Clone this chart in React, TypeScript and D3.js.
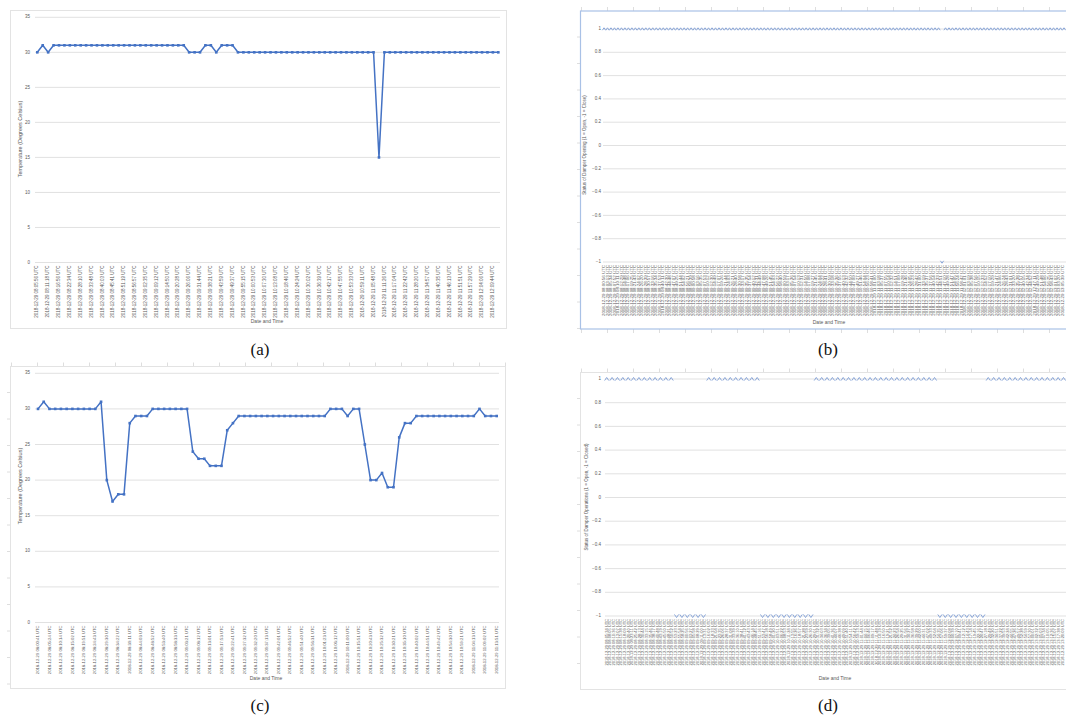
import React from 'react';
import * as d3 from 'd3';

// ---------- DATA ----------
// (a) Temperature, 86 readings
const tempA: number[] = [
  30, 31, 30, 31, 31, 31, 31, 31, 31, 31,
  31, 31, 31, 31, 31, 31, 31, 31, 31, 31,
  31, 31, 31, 31, 31, 31, 31, 31, 30, 30,
  30, 31, 31, 30, 31, 31, 31, 30, 30, 30,
  30, 30, 30, 30, 30, 30, 30, 30, 30, 30,
  30, 30, 30, 30, 30, 30, 30, 30, 30, 30,
  30, 30, 30, 15, 30, 30, 30, 30, 30, 30,
  30, 30, 30, 30, 30, 30, 30, 30, 30, 30,
  30, 30, 30, 30, 30, 30,
];
// tick labels of (a), one every two readings
const timesA: string[] = [
  '08:05:56', '08:11:18', '08:16:56', '08:22:34', '08:28:10', '08:33:48', '08:40:03', '08:45:41', '08:51:19', '08:56:57',
  '09:02:35', '09:09:12', '09:14:50', '09:20:28', '09:26:06', '09:31:44', '09:38:21', '09:43:59', '09:49:37', '09:55:15',
  '10:00:53', '10:07:30', '10:13:08', '10:18:46', '10:24:24', '10:30:02', '10:36:39', '10:42:17', '10:47:55', '10:53:33',
  '10:59:11', '11:05:48', '11:11:26', '11:17:04', '11:22:42', '11:28:20', '11:34:57', '11:40:35', '11:46:13', '11:51:51',
  '11:57:29', '12:04:06', '12:09:44',
];

// (b) Damper opening status, 133 readings
const statusB: number[] = [
  1, 1, 1, 1, 1, 1, 1, 1, 1, 1,
  1, 1, 1, 1, 1, 1, 1, 1, 1, 1,
  1, 1, 1, 1, 1, 1, 1, 1, 1, 1,
  1, 1, 1, 1, 1, 1, 1, 1, 1, 1,
  1, 1, 1, 1, 1, 1, 1, 1, 1, 1,
  1, 1, 1, 1, 1, 1, 1, 1, 1, 1,
  1, 1, 1, 1, 1, 1, 1, 1, 1, 1,
  1, 1, 1, 1, 1, 1, 1, 1, 1, 1,
  1, 1, 1, 1, 1, 1, 1, 1, 1, 1,
  1, 1, 1, 1, 1, 1, 1, -1, 1, 1,
  1, 1, 1, 1, 1, 1, 1, 1, 1, 1,
  1, 1, 1, 1, 1, 1, 1, 1, 1, 1,
  1, 1, 1, 1, 1, 1, 1, 1, 1, 1,
  1, 1, 1,
];
const timesB: string[] = [
  '08:00:56', '08:03:13', '08:05:34', '08:07:52', '08:10:11', '08:12:29', '08:14:48', '08:17:06', '08:19:25', '08:21:43',
  '08:24:02', '08:26:20', '08:28:39', '08:30:57', '08:33:16', '08:35:34', '08:37:53', '08:40:11', '08:42:30', '08:44:48',
  '08:47:07', '08:49:25', '08:51:44', '08:54:02', '08:56:21', '08:58:39', '09:00:58', '09:03:16', '09:05:35', '09:07:53',
  '09:10:12', '09:12:30', '09:14:49', '09:17:07', '09:19:26', '09:21:44', '09:24:03', '09:26:21', '09:28:40', '09:30:58',
  '09:33:17', '09:35:35', '09:37:54', '09:40:12', '09:42:31', '09:44:49', '09:47:08', '09:49:26', '09:51:45', '09:54:03',
  '09:56:22', '09:58:40', '10:00:59', '10:03:17', '10:05:36', '10:07:54', '10:10:13', '10:12:31', '10:14:50', '10:17:08',
  '10:19:27', '10:21:45', '10:24:04', '10:26:22', '10:28:41', '10:30:59', '10:33:18', '10:35:36', '10:37:55', '10:40:13',
  '10:42:32', '10:44:50', '10:47:09', '10:49:27', '10:51:46', '10:54:04', '10:56:23', '10:58:41', '11:01:00', '11:03:18',
  '11:05:37', '11:07:55', '11:10:14', '11:12:32', '11:14:51', '11:17:09', '11:19:28', '11:21:46', '11:24:05', '11:26:23',
  '11:28:42', '11:31:00', '11:33:19', '11:35:37', '11:37:56', '11:40:14', '11:42:33', '11:44:51', '11:47:10', '11:49:28',
  '11:51:47', '11:54:05', '11:56:24', '11:58:42', '12:01:01', '12:03:19', '12:05:38', '12:07:56', '12:10:15', '12:12:33',
  '12:14:52', '12:17:10', '12:19:29', '12:21:47', '12:24:06', '12:26:24', '12:28:43', '12:31:01', '12:33:20', '12:35:38',
  '12:37:57', '12:40:15', '12:42:34', '12:44:52', '12:47:11', '12:49:29', '12:51:48', '12:54:06', '12:56:25', '12:58:43',
  '13:01:02', '13:03:20', '13:05:39',
];

// (c) Temperature, 81 readings
const tempC: number[] = [
  30, 31, 30, 30, 30, 30, 30, 30, 30, 30,
  30, 31, 20, 17, 18, 18, 28, 29, 29, 29,
  30, 30, 30, 30, 30, 30, 30, 24, 23, 23,
  22, 22, 22, 27, 28, 29, 29, 29, 29, 29,
  29, 29, 29, 29, 29, 29, 29, 29, 29, 29,
  29, 30, 30, 30, 29, 30, 30, 25, 20, 20,
  21, 19, 19, 26, 28, 28, 29, 29, 29, 29,
  29, 29, 29, 29, 29, 29, 29, 30, 29, 29,
  29,
];
const timesC: string[] = [
  '08:00:41', '08:05:24', '08:10:14', '08:15:02', '08:19:51', '08:24:43', '08:29:30', '08:34:22', '08:39:11', '08:44:03',
  '08:48:52', '08:53:40', '08:58:33', '09:03:21', '09:08:12', '09:13:01', '09:17:53', '09:22:41', '09:27:32', '09:32:20',
  '09:37:13', '09:42:01', '09:46:52', '09:51:40', '09:56:31', '10:01:23', '10:06:12', '10:11:00', '10:15:51', '10:20:43',
  '10:25:32', '10:30:21', '10:35:10', '10:40:02', '10:44:51', '10:49:42', '10:54:30', '10:59:21', '11:04:13', '11:09:02',
  '11:13:51',
];

// (d) Damper operation status, 86 readings
const statusD: number[] = [
  1, 1, 1, 1, 1, 1, 1, 1, 1, 1,
  1, 1, 1, -1, -1, -1, -1, -1, -1, 1,
  1, 1, 1, 1, 1, 1, 1, 1, 1, -1,
  -1, -1, -1, -1, -1, -1, -1, -1, -1, 1,
  1, 1, 1, 1, 1, 1, 1, 1, 1, 1,
  1, 1, 1, 1, 1, 1, 1, 1, 1, 1,
  1, 1, -1, -1, -1, -1, -1, -1, -1, -1,
  -1, 1, 1, 1, 1, 1, 1, 1, 1, 1,
  1, 1, 1, 1, 1, 1,
];
const timesD: string[] = [
  '08:05:34', '08:08:05', '08:10:36', '08:13:07', '08:15:38', '08:18:09', '08:20:40', '08:23:11', '08:25:42', '08:28:13',
  '08:30:44', '08:33:15', '08:35:46', '08:38:17', '08:40:48', '08:43:19', '08:45:50', '08:48:21', '08:50:52', '08:53:23',
  '08:55:54', '08:58:25', '09:00:56', '09:03:27', '09:05:58', '09:08:29', '09:11:00', '09:13:31', '09:16:02', '09:18:33',
  '09:21:04', '09:23:35', '09:26:06', '09:28:37', '09:31:08', '09:33:39', '09:36:10', '09:38:41', '09:41:12', '09:43:43',
  '09:46:14', '09:48:45', '09:51:16', '09:53:47', '09:56:18', '09:58:49', '10:01:20', '10:03:51', '10:06:22', '10:08:53',
  '10:11:24', '10:13:55', '10:16:26', '10:18:57', '10:21:28', '10:23:59', '10:26:30', '10:29:01', '10:31:32', '10:34:03',
  '10:36:34', '10:39:05', '10:41:36', '10:44:07', '10:46:38', '10:49:09', '10:51:40', '10:54:11', '10:56:42', '10:59:13',
  '11:01:44', '11:04:15', '11:06:46', '11:09:17', '11:11:48', '11:14:19', '11:16:50', '11:19:21', '11:21:52', '11:24:23',
  '11:26:54', '11:29:25', '11:31:56', '11:34:27', '11:36:58', '11:39:29', '11:42:00', '11:44:31', '11:47:02', '11:49:33',
  '11:52:04', '11:54:35', '11:57:06', '11:59:37', '12:02:08', '12:04:39', '12:07:10', '12:09:41', '12:12:12', '12:14:43',
  '12:17:14', '12:19:45', '12:22:16', '12:24:47', '12:27:18', '12:29:49', '12:32:20', '12:34:51', '12:37:22', '12:39:53',
  '12:42:24', '12:44:55', '12:47:26', '12:49:57', '12:52:28', '12:54:59', '12:57:30', '13:00:01', '13:02:32', '13:05:03',
  '13:07:34', '13:10:05', '13:12:36', '13:15:07', '13:17:38', '13:20:09',
];

const tempTicks: number[] = [0, 5, 10, 15, 20, 25, 30, 35];
const statusTicks: number[] = [1, 0.8, 0.6, 0.4, 0.2, 0, -0.2, -0.4, -0.6, -0.8, -1];

const captions: string[] = ['(a)', '(b)', '(c)', '(d)'];
const tempTitle = 'Temperature (Degrees Celsius)';
const statusTitleB = 'Status of Damper Opening (1 = Open, -1 = Close)';
const statusTitleD = 'Status of Damper Operations (1 = Open, -1 = Closed)';
const xTitle = 'Date and Time';

// ---------- STYLE ----------
const FONT = '"Liberation Sans", Arial, sans-serif';
const TXT = '#595959';
const GRID = '#d9d9d9';
const BLUE = '#4472C4';
const MARK = '#7f9ed6';

const fmt = (t: string) => `2018-12-29 ${t} UTC`;

function RulerTicks({ x0, x1, y0, y1, top, left, bottom }: any) {
  const xs = d3.range(x0 + 1, x1, 26);
  const ys = d3.range(y0 + 26, y1, 26.5);
  return (
    <g stroke="#d6d6d6" strokeWidth={0.8}>
      {top && xs.map((x, i) => <line key={'t' + i} x1={x} x2={x} y1={y0 - 4} y2={y0} />)}
      {bottom && xs.map((x, i) => <line key={'b' + i} x1={x} x2={x} y1={y1} y2={y1 + 4} />)}
      {left && ys.map((y, i) => <line key={'l' + i} x1={x0 - 3.5} x2={x0} y1={y} y2={y} />)}
    </g>
  );
}

function TempPanel({ values, times, x0, x1, yTop, yBottom, gx0, gx1, tickX, titleX, titleY, xtX, xtY, labelSize }: any) {
  const x = d3.scaleLinear().domain([0, values.length - 1]).range([x0, x1]);
  const y = d3.scaleLinear().domain([0, 35]).range([yBottom, yTop]);
  const line = d3.line<number>().x((_, i) => x(i)).y((d) => y(d));
  return (
    <g>
      {tempTicks.map((t) => (
        <g key={t}>
          <line x1={gx0} x2={gx1} y1={y(t)} y2={y(t)} stroke={GRID} strokeWidth={0.8} />
          <text x={tickX} y={y(t)} fontSize={4.5} fill={TXT} textAnchor="end" dominantBaseline="middle" fontFamily={FONT}>{t}</text>
        </g>
      ))}
      <path d={line(values) || ''} fill="none" stroke={BLUE} strokeWidth={1.5} strokeLinejoin="round" />
      {values.map((v: number, i: number) => (
        <rect key={i} x={x(i) - 1.3} y={y(v) - 1.3} width={2.6} height={2.6} fill={BLUE} />
      ))}
      {times.map((t: string, k: number) => (
        <text key={k} transform={`translate(${x(k * 2)},${yBottom + 3}) rotate(-90)`} fontSize={labelSize} fill={TXT}
          textAnchor="end" dominantBaseline="middle" fontFamily={FONT}>{fmt(t)}</text>
      ))}
      <text transform={`translate(${titleX},${titleY}) rotate(-90)`} fontSize={5.5} fill={TXT} textAnchor="middle"
        dominantBaseline="middle" fontFamily={FONT}>{tempTitle}</text>
      <text x={xtX} y={xtY} fontSize={5} fill={TXT} textAnchor="middle" dominantBaseline="middle" fontFamily={FONT}>{xTitle}</text>
    </g>
  );
}

function Chevron({ x, y, up, s }: any) {
  const w = 1.9 * s, h = 1.4 * s;
  const d = up ? `M${x - w},${y + h} L${x},${y - h} L${x + w},${y + h}` : `M${x - w},${y - h} L${x},${y + h} L${x + w},${y - h}`;
  return <path d={d} fill="none" stroke={MARK} strokeWidth={0.9} />;
}

function StatusPanel({ values, times, mx0, mx1, lx0, lx1, yTop, yBottom, gx0, gx1, tickX, title, titleX, titleY, xtX, xtY, labelSize, mSize }: any) {
  const xm = d3.scaleLinear().domain([0, values.length - 1]).range([mx0, mx1]);
  const xl = d3.scaleLinear().domain([0, times.length - 1]).range([lx0, lx1]);
  const y = d3.scaleLinear().domain([-1, 1]).range([yBottom, yTop]);
  return (
    <g>
      {statusTicks.map((t) => (
        <g key={t}>
          <line x1={gx0} x2={gx1} y1={y(t)} y2={y(t)} stroke={GRID} strokeWidth={0.8} />
          <text x={tickX} y={y(t)} fontSize={4.5} fill={TXT} textAnchor="end" dominantBaseline="middle" fontFamily={FONT}>{d3.format('~g')(t)}</text>
        </g>
      ))}
      {values.map((v: number, i: number) => (
        <Chevron key={i} x={xm(i)} y={y(v)} up={v > 0} s={mSize} />
      ))}
      {times.map((t: string, k: number) => (
        <text key={k} transform={`translate(${xl(k)},${yBottom + 3}) rotate(-90)`} fontSize={labelSize} fill={TXT}
          textAnchor="end" dominantBaseline="middle" fontFamily={FONT}>{fmt(t)}</text>
      ))}
      <text transform={`translate(${titleX},${titleY}) rotate(-90)`} fontSize={4.5} fill={TXT} textAnchor="middle"
        dominantBaseline="middle" fontFamily={FONT}>{title}</text>
      <text x={xtX} y={xtY} fontSize={5} fill={TXT} textAnchor="middle" dominantBaseline="middle" fontFamily={FONT}>{xTitle}</text>
    </g>
  );
}

export default function App() {
  return (
    <svg width={1066} height={718} style={{ position: 'absolute', left: 0, top: 0, background: '#fff' }}>
      <rect x={0} y={0} width={1066} height={718} fill="#fff" />
      {/* (a) */}
      <rect x={10.5} y={10.5} width={496} height={318} fill="none" stroke="#e3e3e3" strokeWidth={1} />
      <TempPanel values={tempA} times={timesA} x0={37.3} x1={498.3} yTop={17.3} yBottom={262.5} gx0={35} gx1={500}
        tickX={30} titleX={21} titleY={139} xtX={267} xtY={322} labelSize={4.5} />

      {/* (b) */}
      <RulerTicks x0={580.5} x1={1066} y0={11} y1={329} top bottom left />
      <rect x={580.5} y={11} width={500} height={318} fill="none" stroke="#a9c1e6" strokeWidth={1.2} />
      <StatusPanel values={statusB} times={timesB} mx0={604} mx1={1064} lx0={604} lx1={1062.5} yTop={29} yBottom={262}
        gx0={603} gx1={1066} tickX={601} title={statusTitleB} titleX={585} titleY={145} xtX={829} xtY={323}
        labelSize={4.4} mSize={0.85} />

      {/* (c) */}
      <RulerTicks x0={10.5} x1={506} y0={366.5} y1={689} top left />
      <rect x={10.5} y={366.5} width={495} height={322} fill="none" stroke="#e3e3e3" strokeWidth={1} />
      <TempPanel values={tempC} times={timesC} x0={38} x1={496.7} yTop={373.3} yBottom={622.5} gx0={35} gx1={499}
        tickX={30} titleX={21} titleY={486} xtX={266} xtY={679} labelSize={4.2} />

      {/* (d) */}
      <RulerTicks x0={580.5} x1={1066} y0={372.5} y1={690} top left />
      <rect x={580.5} y={372.5} width={500} height={317} fill="none" stroke="#e3e3e3" strokeWidth={1} />
      <StatusPanel values={statusD} times={timesD} mx0={606.7} mx1={1063.5} lx0={606.7} lx1={1062.5} yTop={379} yBottom={616}
        gx0={605} gx1={1066} tickX={601} title={statusTitleD} titleX={587} titleY={497} xtX={835} xtY={679}
        labelSize={4} mSize={1.1} />

      {/* captions */}
      {captions.map((c, i) => (
        <text key={c} x={i % 2 === 0 ? 260 : 828} y={i < 2 ? 351 : 707} fontSize={17} textAnchor="middle"
          dominantBaseline="middle" fontFamily='"Liberation Serif", "DejaVu Serif", serif' fill="#111">{c}</text>
      ))}
    </svg>
  );
}
